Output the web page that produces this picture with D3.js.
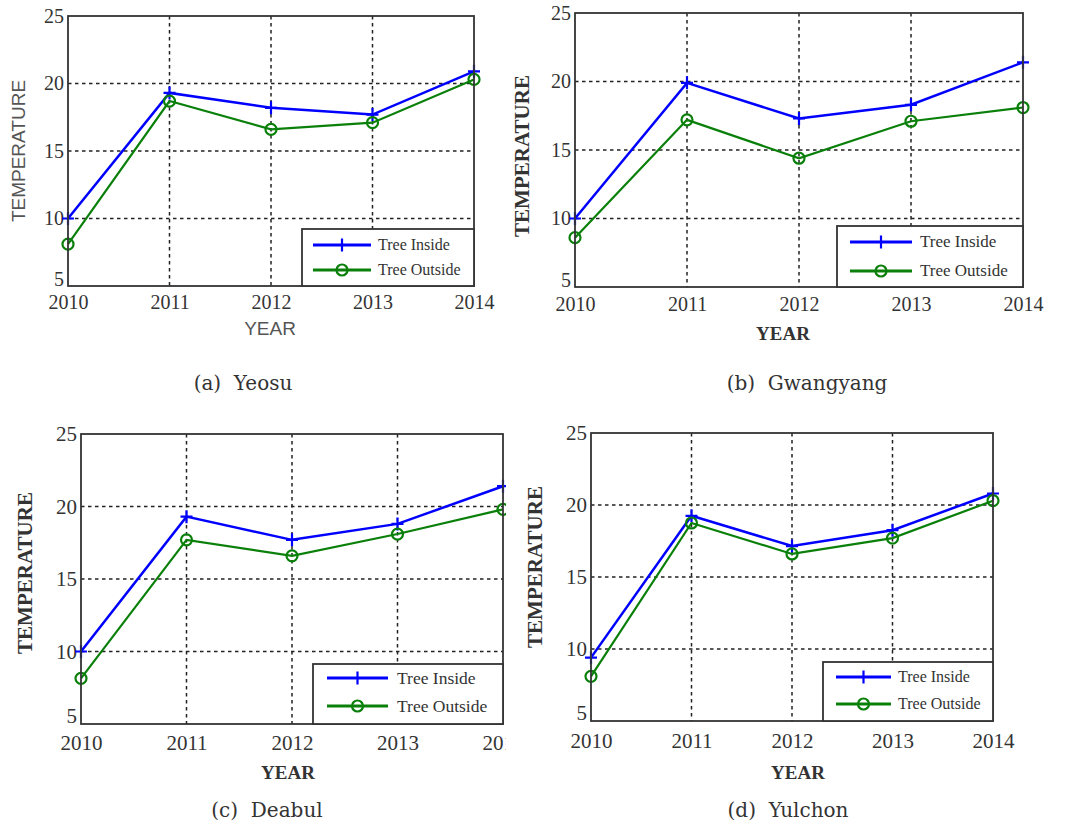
<!DOCTYPE html>
<html lang="en">
<head>
    <meta charset="UTF-8">
    <title>Temperature inside / outside trees</title>
    <script src="https://cdnjs.cloudflare.com/ajax/libs/d3/7.8.5/d3.min.js"></script>
    <style>
        body { margin: 0; background: #fff; }
        .caption { font-family: "DejaVu Serif", serif; font-size: 20px; fill: #333; text-anchor: middle; white-space: pre; }
        .grid-line { stroke: #222; stroke-width: 1.5; stroke-dasharray: 3.5,3.5; }
        .frame { fill: none; stroke: #333; stroke-width: 1.8; }
    </style>
</head>
<body>
<div id="chart"></div>
<script>
    // Data
    const years = [2010, 2011, 2012, 2013, 2014];
    const yTicks = [5, 10, 15, 20, 25];
    const seriesNames = ["Tree Inside", "Tree Outside"];

    const yeosuInside    = [10.0, 19.3, 18.2, 17.7, 20.9];
    const yeosuOutside   = [8.1, 18.7, 16.6, 17.1, 20.3];
    const gwangInside    = [10.0, 19.9, 17.3, 18.3, 21.4];
    const gwangOutside   = [8.6, 17.2, 14.4, 17.1, 18.1];
    const deabulInside   = [10.0, 19.3, 17.7, 18.8, 21.4];
    const deabulOutside  = [8.15, 17.7, 16.6, 18.1, 19.8];
    const yulchonInside  = [9.4, 19.25, 17.15, 18.25, 20.8];
    const yulchonOutside = [8.1, 18.75, 16.6, 17.7, 20.3];

    const captions = ["(a)  Yeosu", "(b)  Gwangyang", "(c)  Deabul", "(d)  Yulchon"];

    const colors = ["#0000ff", "#0a800a"];
    const serif = "'Liberation Serif', 'Times New Roman', serif";
    const sans = "'Liberation Sans', Arial, sans-serif";

    // Panel layouts (pixel boxes)
    const panels = [
        { inside: yeosuInside, outside: yeosuOutside, caption: captions[0],
          left: 68, right: 474, top: 16, bottom: 286, sans: true,
          yTitleX: 18, yTitleY: 151, xTitleX: 270, xTitleY: 335,
          capX: 243, capY: 390, tickFs: 20, xLabOff: 25,
          leg: { x0: 302, x1: 474, y0: 229, y1: 286, r1: 16, r2: 41, lx: 11, ll: 58, tx: 76, fs: 16 } },
        { inside: gwangInside, outside: gwangOutside, caption: captions[1],
          left: 575, right: 1023, top: 13, bottom: 287, sans: false,
          yTitleX: 522, yTitleY: 156, xTitleX: 783, xTitleY: 340,
          capX: 807, capY: 390, tickFs: 20, xLabOff: 26,
          leg: { x0: 837, x1: 1023, y0: 226, y1: 287, r1: 16, r2: 45, lx: 13, ll: 62, tx: 83, fs: 17 } },
        { inside: deabulInside, outside: deabulOutside, caption: captions[2],
          left: 81, right: 503, top: 434, bottom: 724, sans: false, clipX: 506,
          yTitleX: 25, yTitleY: 573, xTitleX: 288, xTitleY: 779,
          capX: 267, capY: 817, tickFs: 21, xLabOff: 27,
          leg: { x0: 313, x1: 503, y0: 664, y1: 724, r1: 14, r2: 42, lx: 14, ll: 61, tx: 84, fs: 17.5 } },
        { inside: yulchonInside, outside: yulchonOutside, caption: captions[3],
          left: 591, right: 993, top: 433, bottom: 721, sans: false,
          yTitleX: 535, yTitleY: 567, xTitleX: 798, xTitleY: 779,
          capX: 788, capY: 817, tickFs: 21, xLabOff: 28,
          leg: { x0: 823, x1: 993, y0: 662, y1: 721, r1: 15, r2: 42, lx: 13, ll: 55, tx: 75, fs: 16 } }
    ];

    const svg = d3.select("#chart").append("svg")
        .attr("width", 1073)
        .attr("height", 827);

    svg.append("defs").append("clipPath")
        .attr("id", "clipC")
        .append("rect")
        .attr("x", 0).attr("y", 400).attr("width", 506).attr("height", 427);

    const plusPath = "M-6,0H6M0,-6.5V6.5";

    function drawMarker(g, idx, cx, cy) {
        if (idx === 0) {
            g.append("path")
                .attr("d", plusPath)
                .attr("transform", `translate(${cx},${cy})`)
                .attr("stroke", colors[0])
                .attr("stroke-width", 2.2)
                .attr("fill", "none");
        } else {
            g.append("circle")
                .attr("cx", cx).attr("cy", cy).attr("r", 5.5)
                .attr("stroke", colors[1])
                .attr("stroke-width", 2.2)
                .attr("fill", "none");
        }
    }

    panels.forEach(p => {
        const g = svg.append("g");
        if (p.clipX) g.attr("clip-path", "url(#clipC)");

        const x = d3.scalePoint().domain(years).range([p.left, p.right]);
        const y = d3.scaleLinear().domain([5, 25]).range([p.bottom, p.top]);

        // grid
        g.selectAll(".gx")
            .data(years.slice(1, -1))
            .enter().append("line")
            .attr("class", "grid-line")
            .attr("x1", d => x(d)).attr("x2", d => x(d))
            .attr("y1", p.top).attr("y2", p.bottom);
        g.selectAll(".gy")
            .data(yTicks.slice(1, -1))
            .enter().append("line")
            .attr("class", "grid-line")
            .attr("y1", d => y(d)).attr("y2", d => y(d))
            .attr("x1", p.left).attr("x2", p.right);

        // axes (labels only)
        const xAxis = g.append("g")
            .attr("transform", `translate(0,${p.bottom})`)
            .call(d3.axisBottom(x).tickSize(0).tickPadding(p.xLabOff - 16));
        xAxis.select(".domain").remove();
        xAxis.selectAll("text")
            .style("font-family", serif)
            .style("font-size", p.tickFs + "px")
            .style("fill", "#333");

        const yAxis = g.append("g")
            .attr("transform", `translate(${p.left},0)`)
            .call(d3.axisLeft(y).tickValues(yTicks).tickSize(0).tickPadding(4));
        yAxis.select(".domain").remove();
        yAxis.selectAll("text")
            .style("font-family", serif)
            .style("font-size", p.tickFs + "px")
            .style("fill", "#333")
            .attr("dy", d => d === 5 ? "-0.05em" : "0.32em");

        // lines
        const line = d3.line()
            .x((d, i) => x(years[i]))
            .y(d => y(d));

        [p.inside, p.outside].forEach((vals, si) => {
            g.append("path")
                .datum(vals)
                .attr("d", line)
                .attr("fill", "none")
                .attr("stroke", colors[si])
                .attr("stroke-width", si === 0 ? 2.5 : 2.2);
            vals.forEach((v, i) => drawMarker(g, si, x(years[i]), y(v)));
        });

        // frame
        g.append("rect")
            .attr("class", "frame")
            .attr("x", p.left).attr("y", p.top)
            .attr("width", p.right - p.left)
            .attr("height", p.bottom - p.top);

        // legend
        const L = p.leg;
        g.append("rect")
            .attr("x", L.x0).attr("y", L.y0)
            .attr("width", L.x1 - L.x0).attr("height", L.y1 - L.y0)
            .attr("fill", "#fff")
            .attr("stroke", "#333")
            .attr("stroke-width", 1.8);
        seriesNames.forEach((name, si) => {
            const ly = L.y0 + (si === 0 ? L.r1 : L.r2);
            g.append("line")
                .attr("x1", L.x0 + L.lx).attr("x2", L.x0 + L.lx + L.ll)
                .attr("y1", ly).attr("y2", ly)
                .attr("stroke", colors[si])
                .attr("stroke-width", 2.8);
            drawMarker(g, si, L.x0 + L.lx + L.ll / 2, ly);
            g.append("text")
                .attr("x", L.x0 + L.tx)
                .attr("y", ly)
                .attr("dy", "0.32em")
                .style("font-family", serif)
                .style("font-size", L.fs + "px")
                .style("fill", "#333")
                .text(name);
        });

        // axis titles
        const titleFont = p.sans ? sans : serif;
        const titleWeight = p.sans ? "normal" : "bold";
        const titleFill = p.sans ? "#555" : "#333";

        g.append("text")
            .attr("x", p.xTitleX).attr("y", p.xTitleY)
            .attr("text-anchor", "middle")
            .style("font-family", titleFont)
            .style("font-weight", titleWeight)
            .style("font-size", "19px")
            .style("fill", titleFill)
            .text("YEAR");

        g.append("text")
            .attr("transform", `translate(${p.yTitleX},${p.yTitleY}) rotate(-90)`)
            .attr("text-anchor", "middle")
            .attr("dy", "0.35em")
            .style("font-family", titleFont)
            .style("font-weight", titleWeight)
            .style("font-size", (p.sans ? 19 : 21) + "px")
            .style("fill", titleFill)
            .text("TEMPERATURE");

        // caption
        svg.append("text")
            .attr("class", "caption")
            .attr("x", p.capX).attr("y", p.capY)
            .text(p.caption);
    });
</script>
</body>
</html>
